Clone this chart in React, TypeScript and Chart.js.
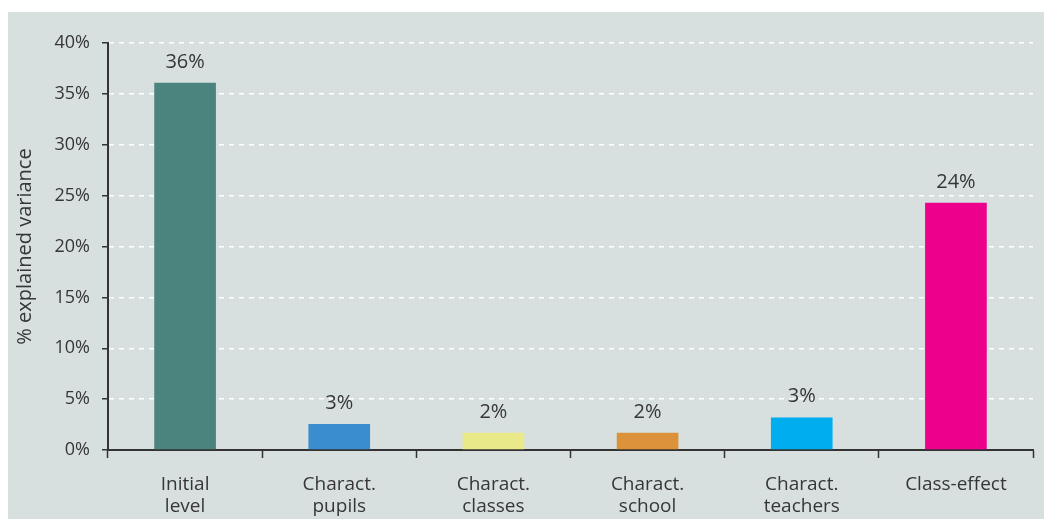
import React, { useEffect, useRef } from "react";
import { Chart, registerables } from "chart.js";

Chart.register(...registerables);

const categories: string[][] = [
  ["Initial", "level"],
  ["Charact.", "pupils"],
  ["Charact.", "classes"],
  ["Charact.", "school"],
  ["Charact.", "teachers"],
  ["Class-effect"],
];
const values: number[] = [36.1, 2.55, 1.7, 1.7, 3.2, 24.3];
const valueLabels: string[] = ["36%", "3%", "2%", "2%", "3%", "24%"];
const barColors: string[] = ["#4b847f", "#3a8ed0", "#e9e98a", "#db923b", "#00aeef", "#ec008c"];
const yTickValues: number[] = [0, 5, 10, 15, 20, 25, 30, 35, 40];
const yTitle = "% explained variance";

const FONT = "'Open Sans', 'DejaVu Sans', sans-serif";
const TEXT = "#363636";

const valueLabelPlugin = {
  id: "valueLabels",
  afterDatasetsDraw(chart: any) {
    const ctx = chart.ctx;
    const meta = chart.getDatasetMeta(0);
    ctx.save();
    ctx.font = `20px ${FONT}`;
    ctx.fillStyle = TEXT;
    ctx.textAlign = "center";
    ctx.textBaseline = "alphabetic";
    meta.data.forEach((bar: any, i: number) => {
      ctx.fillText(valueLabels[i], bar.x, bar.y - 15);
    });
    ctx.restore();
  },
};

export default function App() {
  const canvasRef = useRef<HTMLCanvasElement | null>(null);

  useEffect(() => {
    if (!canvasRef.current) return;
    const chart = new Chart(canvasRef.current, {
      type: "bar",
      data: {
        labels: categories,
        datasets: [
          {
            data: values,
            backgroundColor: barColors,
            borderWidth: 0,
            barPercentage: 0.4,
            categoryPercentage: 1,
          },
        ],
      },
      options: {
        animation: false,
        responsive: false,
        maintainAspectRatio: false,
        layout: { padding: { left: 0, top: 31, right: 11, bottom: 0 } },
        plugins: {
          legend: { display: false },
          tooltip: { enabled: false },
        },
        scales: {
          x: {
            offset: true,
            grid: {
              offset: true,
              drawOnChartArea: false,
              drawTicks: true,
              tickLength: 8,
              tickColor: "#333333",
              tickWidth: 1.5,
            },
            border: { display: true, color: "#333333", width: 2 },
            ticks: {
              color: TEXT,
              font: { family: FONT, size: 19, lineHeight: 1.16 },
              padding: 16,
              maxRotation: 0,
              autoSkip: false,
            },
            afterFit(scale: any) {
              scale.height = 69;
            },
          },
          y: {
            min: 0,
            max: 40,
            afterBuildTicks(scale: any) {
              scale.ticks = yTickValues.map((v) => ({ value: v }));
            },
            grid: {
              color: (c: any) => (c.tick && c.tick.value === 0 ? "rgba(0,0,0,0)" : "#ffffff"),
              lineWidth: 1.5,
              drawTicks: true,
              tickLength: 6,
              tickColor: "#333333",
              tickWidth: 1.5,
            },
            border: { display: true, color: "#333333", width: 2, dash: [5, 5] },
            ticks: {
              color: TEXT,
              font: { family: FONT, size: 18 },
              padding: 12,
              callback: (v: any) => `${v}%`,
            },
            title: {
              display: true,
              text: yTitle,
              color: TEXT,
              font: { family: FONT, size: 20, lineHeight: 1.2 },
              padding: { top: 5, bottom: 0 },
            },
            afterFit(scale: any) {
              scale.width = 100;
            },
          },
        },
      },
      plugins: [valueLabelPlugin],
    });
    return () => chart.destroy();
  }, []);

  return (
    <div
      style={{
        position: "fixed",
        left: 8,
        top: 12,
        width: 1036,
        height: 507,
        background: "#d7e0df",
      }}
    >
      <canvas ref={canvasRef} width={1036} height={507} style={{ display: "block" }} />
    </div>
  );
}
